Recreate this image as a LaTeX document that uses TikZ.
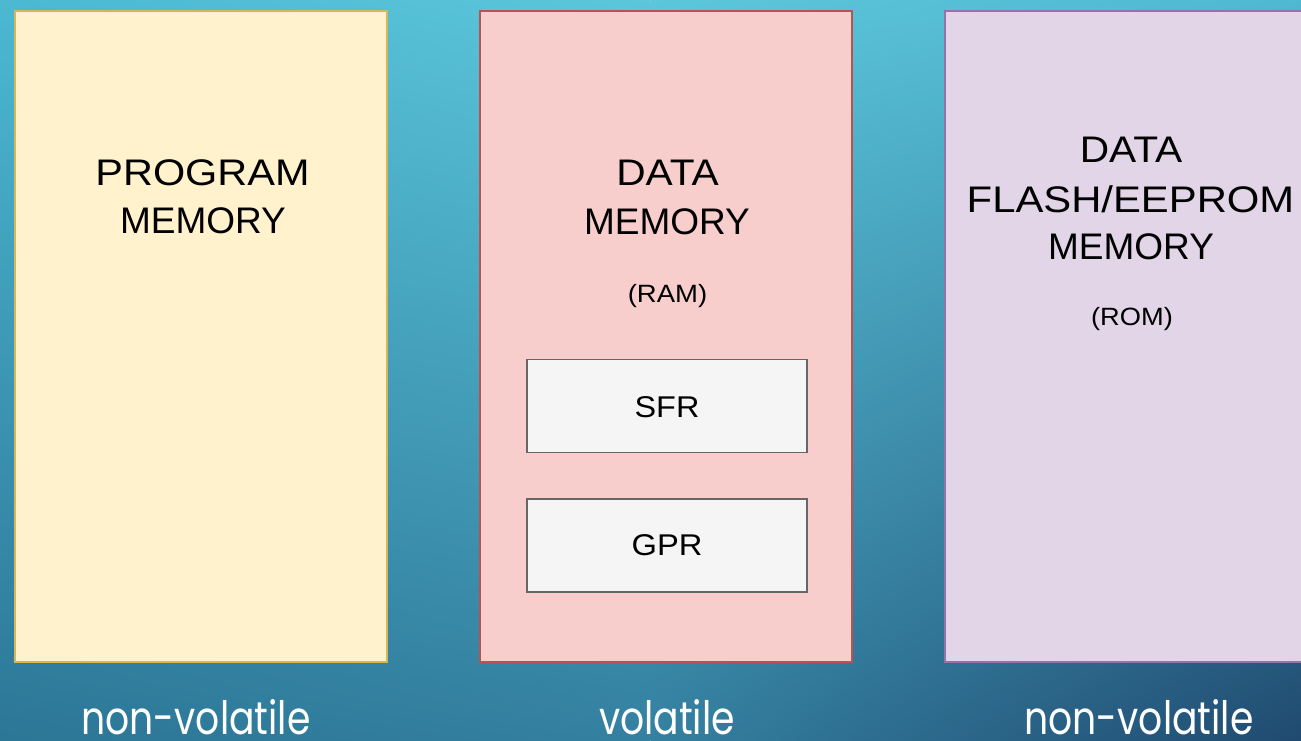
\documentclass[tikz,border=0pt]{standalone}
\usepackage{graphicx}
\usepackage{fontspec}
\usetikzlibrary{shadings}
\setmainfont{Liberation Sans}
\newfontfamily\geofont{Poppins}

% background tones
\definecolor{bgTL}{RGB}{76,184,210}
\definecolor{bgTM}{RGB}{92,198,218}
\definecolor{bgTR}{RGB}{80,184,210}
\definecolor{bgBL}{RGB}{44,118,150}
\definecolor{bgBM}{RGB}{52,128,160}
\definecolor{bgBR}{RGB}{32,74,112}
% box tones
\definecolor{progFill}{HTML}{FFF2CC}
\definecolor{progLine}{HTML}{D6B656}
\definecolor{dataFill}{HTML}{F8CECC}
\definecolor{dataLine}{HTML}{B85450}
\definecolor{romFill}{HTML}{E1D5E7}
\definecolor{romLine}{HTML}{9673A6}
\definecolor{regFill}{HTML}{F5F5F5}
\definecolor{regLine}{HTML}{666666}

% horizontal stretch of a word, height kept
\newcommand\stretchx[2]{\scalebox{#1}[1]{#2}}

\tikzset{
  membox/.style={draw, line width=2.5pt, inner sep=0pt, minimum width=372pt, minimum height=651pt},
  regbox/.style={draw=regLine, fill=regFill, line width=1.8pt, inner sep=0pt, minimum width=280pt, minimum height=93pt},
  titleline/.style={font=\fontsize{37}{37}\selectfont, anchor=base, inner sep=0pt, text=black},
  subline/.style={font=\fontsize{25}{25}\selectfont, anchor=base, inner sep=0pt, text=black},
  reglabel/.style={font=\fontsize{30}{30}\selectfont, anchor=base, inner sep=0pt, text=black},
  kindlabel/.style={font=\geofont\fontsize{46}{46}\selectfont, anchor=base, inner sep=0pt, text depth=0pt, text=white},
}

\begin{document}
\begin{tikzpicture}[x=1pt, y=-1pt]
  \useasboundingbox (0,0) rectangle (1301,741);

  % gradient backdrop in two halves
  \shade[upper left=bgTL, upper right=bgTM, lower left=bgBL, lower right=bgBM]
    (0,0) rectangle (650.5,741);
  \shade[upper left=bgTM, upper right=bgTR, lower left=bgBM, lower right=bgBR]
    (650.5,0) rectangle (1301,741);

  % memory blocks
  \node[membox, draw=progLine, fill=progFill] (prog) at (201,336.5) {};
  \node[membox, draw=dataLine, fill=dataFill] (data) at (666,336.5) {};
  \node[membox, draw=romLine, fill=romFill, minimum width=371pt] (rom) at (1130.5,336.5) {};

  % registers inside data memory
  \node[regbox] (sfr) at (667,406) {};
  \node[regbox] (gpr) at (667,545.5) {};

  % program memory label
  \node[titleline] (progA) at (202.5,185) {\stretchx{1.12}{PROGRAM}};
  \node[titleline] (progB) at (203,233) {MEMORY};

  % data memory label
  \node[titleline] (dataA) at (667.5,185) {\stretchx{1.1}{DATA}};
  \node[titleline] (dataB) at (667,234) {MEMORY};
  \node[subline] (dataC) at (667.5,302) {\stretchx{1.1}{(RAM)}};

  % flash/eeprom label
  \node[titleline] (romA) at (1131,162) {\stretchx{1.1}{DATA}};
  \node[titleline] (romB) at (1130.5,212) {\stretchx{1.13}{FLASH/EEPROM}};
  \node[titleline] (romC) at (1131,259) {MEMORY};
  \node[subline] (romD) at (1132,325) {\stretchx{1.09}{(ROM)}};

  % register labels
  \node[reglabel] (sfrT) at (sfr.center |- 0,417) {\stretchx{1.08}{SFR}};
  \node[reglabel] (gprT) at (gpr.center |- 0,555) {\stretchx{1.09}{GPR}};

  % volatility captions
  \node[kindlabel] (kindA) at (196,734) {\stretchx{0.82}{non-volatile}};
  \node[kindlabel] (kindB) at (667,734) {\stretchx{0.82}{volatile}};
  \node[kindlabel] (kindC) at (1139,734) {\stretchx{0.82}{non-volatile}};
\end{tikzpicture}
\end{document}
